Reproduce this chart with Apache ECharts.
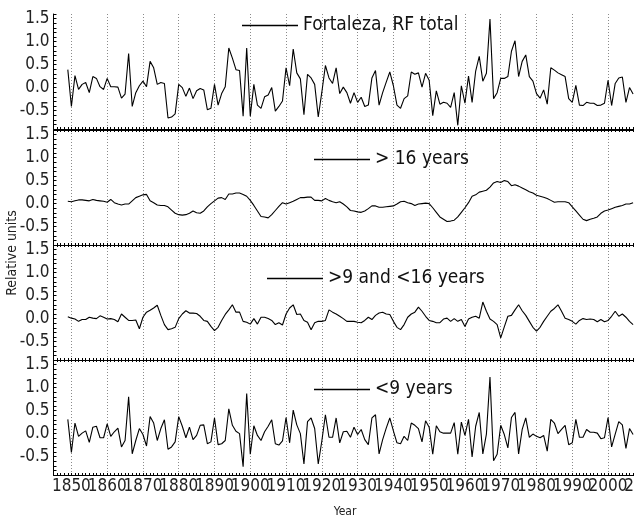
<!DOCTYPE html>
<html><head><meta charset="utf-8">
<script src="https://cdn.jsdelivr.net/npm/echarts@6/dist/echarts.min.js"></script>
<style>html,body{margin:0;padding:0;background:#fff}#c{width:634px;height:520px}</style>
</head><body><div id="c"></div>
<script>
const firstYear = 1849;
const total = [
 0.39,
 -0.41, 0.26,-0.04, 0.07, 0.11,-0.11, 0.24, 0.20, 0.02,-0.04,
 0.20, 0.02, 0.02, 0.01,-0.23,-0.14, 0.74,-0.41,-0.11, 0.04,
 0.14, 0.02, 0.57, 0.43, 0.07, 0.11, 0.09,-0.66,-0.64,-0.57,
 0.07, 0.00,-0.19,-0.01,-0.24,-0.07,-0.02,-0.05,-0.48,-0.45,
 0.07,-0.38,-0.13, 0.02, 0.86, 0.64, 0.39, 0.37,-0.62, 0.86,
 -0.62, 0.07,-0.38,-0.45,-0.20,-0.16, 0.00,-0.51,-0.41,-0.29,
 0.43, 0.04, 0.84, 0.32, 0.19,-0.59, 0.29, 0.21, 0.07,-0.64,
 -0.10, 0.48, 0.21, 0.09, 0.43,-0.13, 0.01,-0.11,-0.34,-0.11,
 -0.32,-0.21,-0.41,-0.38, 0.21, 0.37,-0.38,-0.11, 0.12, 0.34,
 0.04,-0.38,-0.45,-0.24,-0.18, 0.34, 0.29, 0.32, 0.01, 0.31,
 0.16,-0.61,-0.07,-0.36,-0.32,-0.34,-0.43,-0.11,-0.82, 0.04,
 -0.34, 0.25,-0.32, 0.36, 0.68, 0.14, 0.31, 1.49,-0.24,-0.11,
 0.20, 0.20, 0.24, 0.79, 1.02, 0.24, 0.57, 0.71, 0.24, 0.14,
 -0.13,-0.23,-0.05,-0.36, 0.43, 0.38, 0.32, 0.28, 0.24,-0.24,
 -0.32, 0.05,-0.38,-0.39,-0.32,-0.34,-0.34,-0.39,-0.38,-0.34,
 0.16,-0.39, 0.09, 0.21, 0.23,-0.32, 0.00,-0.14
];
const gt16 = [
 0.05,
 0.04, 0.06, 0.08, 0.08, 0.07, 0.06, 0.09, 0.07, 0.06, 0.05,
 0.03, 0.09, 0.02,-0.01,-0.03,-0.01,-0.01, 0.06, 0.13, 0.16,
 0.19, 0.20, 0.06, 0.02,-0.03,-0.04,-0.04,-0.07,-0.14,-0.21,
 -0.24,-0.25,-0.24,-0.21,-0.16,-0.20,-0.21,-0.16,-0.07, 0.00,
 0.06, 0.12, 0.13, 0.09, 0.21, 0.21, 0.23, 0.23, 0.20, 0.16,
 0.07,-0.04,-0.16,-0.28,-0.29,-0.31,-0.24,-0.15,-0.06, 0.02,
 -0.01, 0.02, 0.05, 0.09, 0.13, 0.13, 0.14, 0.14, 0.07, 0.07,
 0.06, 0.11, 0.07, 0.04, 0.02, 0.04,-0.01,-0.07,-0.15,-0.16,
 -0.18,-0.19,-0.16,-0.11,-0.05,-0.05,-0.08,-0.08,-0.07,-0.06,
 -0.05,-0.01, 0.04, 0.05, 0.02, 0.00,-0.04,-0.01, 0.00, 0.01,
 0.00,-0.09,-0.19,-0.29,-0.34,-0.39,-0.38,-0.36,-0.29,-0.19,
 -0.09, 0.02, 0.16, 0.19, 0.25, 0.27, 0.29, 0.36, 0.45, 0.48,
 0.46, 0.50, 0.48, 0.39, 0.41, 0.38, 0.34, 0.30, 0.26, 0.23,
 0.18, 0.16, 0.14, 0.11, 0.07, 0.03, 0.04, 0.04, 0.04, 0.02,
 -0.07,-0.16,-0.25,-0.34,-0.37,-0.34,-0.32,-0.29,-0.21,-0.16,
 -0.14,-0.11,-0.08,-0.06,-0.04,-0.01,-0.01, 0.02
];
const mid = [
 0.04,
 0.01,-0.01,-0.06,-0.02,-0.02, 0.03, 0.01, 0.00, 0.06, 0.03,
 -0.01, 0.00,-0.02,-0.07, 0.10, 0.03,-0.04,-0.04,-0.03,-0.22,
 0.03, 0.14, 0.18, 0.23, 0.29, 0.07,-0.13,-0.24,-0.22,-0.19,
 0.00, 0.10, 0.17, 0.12, 0.12, 0.11, 0.05,-0.04,-0.06,-0.17,
 -0.26,-0.19,-0.04, 0.09, 0.19, 0.30, 0.14, 0.14,-0.06,-0.08,
 -0.12, 0.00,-0.12, 0.03, 0.03, 0.00,-0.04,-0.13,-0.09,-0.14,
 0.10, 0.23, 0.30, 0.09, 0.10,-0.04,-0.08,-0.24,-0.09,-0.06,
 -0.06,-0.04, 0.19, 0.14, 0.10, 0.05, 0.00,-0.06,-0.06,-0.06,
 -0.08,-0.09,-0.04, 0.03,-0.02, 0.07, 0.12, 0.14, 0.10, 0.09,
 -0.06,-0.19,-0.24,-0.13, 0.03, 0.10, 0.14, 0.25, 0.16, 0.05,
 -0.04,-0.06,-0.09,-0.09,-0.01, 0.01,-0.06, 0.00,-0.06,-0.02,
 -0.17,-0.01, 0.03, 0.05, 0.01, 0.36, 0.16,-0.01,-0.06,-0.13,
 -0.42,-0.18, 0.05, 0.07, 0.19, 0.30, 0.17, 0.07,-0.06,-0.19,
 -0.27,-0.19,-0.06, 0.05, 0.16, 0.22, 0.30, 0.16, 0.01,-0.02,
 -0.06,-0.12,-0.04, 0.00,-0.02,-0.01,-0.02,-0.07,-0.02,-0.07,
 -0.04, 0.05, 0.16, 0.05, 0.10, 0.03,-0.06,-0.13
];
const lt9 = [
 0.31,
 -0.41, 0.23,-0.06, 0.01, 0.06,-0.19, 0.14, 0.16,-0.09,-0.09,
 0.21,-0.06, 0.04, 0.12,-0.29,-0.15, 0.80,-0.44,-0.15, 0.11,
 -0.02,-0.27, 0.37, 0.23,-0.15, 0.11, 0.30,-0.34,-0.29,-0.18,
 0.37, 0.16,-0.09, 0.14,-0.13,-0.04, 0.18, 0.19,-0.22,-0.18,
 0.34,-0.24,-0.22,-0.15, 0.54, 0.18, 0.05, 0.00,-0.72, 0.87,
 -0.45, 0.17,-0.04,-0.15, 0.04, 0.16, 0.30,-0.22,-0.25,-0.16,
 0.35,-0.20, 0.51, 0.19, 0.00,-0.66, 0.26, 0.34, 0.11,-0.66,
 -0.16, 0.41,-0.08,-0.08, 0.34,-0.20, 0.04, 0.05,-0.08, 0.14,
 -0.02, 0.09,-0.13,-0.24, 0.34, 0.41,-0.44,-0.13, 0.12, 0.34,
 0.06,-0.20,-0.22,-0.06,-0.15, 0.23, 0.18, 0.11,-0.18, 0.28,
 0.14,-0.45, 0.17, 0.04, 0.01, 0.01, 0.01, 0.24,-0.45, 0.25,
 -0.04, 0.31,-0.51, 0.16, 0.46,-0.44,-0.01, 1.23,-0.59,-0.45,
 0.18,-0.02,-0.31, 0.35, 0.46,-0.44, 0.09, 0.34,-0.08,-0.01,
 -0.06,-0.09,-0.04,-0.38, 0.31, 0.23, 0.00, 0.09, 0.18,-0.24,
 -0.20, 0.31,-0.08,-0.08, 0.09, 0.03, 0.03, 0.01,-0.11,-0.09,
 0.35,-0.29,-0.01, 0.26, 0.19,-0.32, 0.11,-0.02
];
const seriesNames = ['Fortaleza, RF total', '> 16 years', '>9 and <16 years', '<9 years'];
const yTickLabels = [-0.5, 0, 0.5, 1.0, 1.5];
const xTickLabels = [1850,1860,1870,1880,1890,1900,1910,1920,1930,1940,1950,1960,1970,1980,1990,2000,2010];
const gridLineYears = [1850,1860,1870,1880,1890,1900,1910,1920,1930,1940,1950,1960,1970,1980,1990,2000];

const FONT = "'DejaVu Sans Condensed','Liberation Sans Narrow','Arial Narrow',sans-serif";
const X_MIN = 1845, X_MAX = 2011, Y_MIN = -0.9, Y_MAX = 1.6;
const yearTicks = []; for (let y = X_MIN; y <= X_MAX; y++) yearTicks.push(y);
const yMinor = []; for (let k = -9; k <= 16; k++) yMinor.push(k / 10);
// blank end-stop labels so the library's min/max label culling drops them instead of real years
const xLabelValues = [X_MIN].concat(xTickLabels, [X_MAX]);

const dataSets = [total, gt16, mid, lt9];
const tops = [14, 130, 245, 360];
const H = 115;
const legendPos = [[242, 16], [314, 150], [267, 269], [314, 380]];
const grids = [], xAxes = [], yAxes = [], series = [], legends = [];
const blk = {color: '#000', width: 1};
for (let i = 0; i < 4; i++) {
  grids.push({left: 53.5, right: -13.4, top: tops[i], height: H, containLabel: false, outerBoundsMode: 'none'});
  xAxes.push({type: 'value', gridIndex: i, position: 'bottom', min: X_MIN, max: X_MAX,
    axisLine: {show: true, onZero: false, lineStyle: blk},
    axisTick: {show: true, inside: true, length: 2, customValues: yearTicks, lineStyle: blk},
    axisLabel: {show: i === 3, customValues: xLabelValues, fontSize: 17, fontFamily: FONT, color: '#222', margin: 3,
      showMinLabel: false, showMaxLabel: false, hideOverlap: false,
      formatter: v => (v === X_MIN || v === X_MAX) ? ' ' : String(v)},
    splitLine: {show: false}});
  xAxes.push({type: 'value', gridIndex: i, position: 'top', min: X_MIN, max: X_MAX,
    axisLine: {show: i > 0, onZero: false, lineStyle: blk},
    axisTick: {show: i > 0, inside: true, length: 2, customValues: yearTicks, lineStyle: blk},
    axisLabel: {show: false}, splitLine: {show: false}});
  xAxes.push({type: 'value', gridIndex: i, position: 'bottom', min: X_MIN, max: X_MAX,
    axisLine: {show: false}, axisTick: {show: false, customValues: gridLineYears},
    axisLabel: {show: false},
    splitLine: {show: true, showMinLine: true, showMaxLine: true, lineStyle: {color: '#8a8a8a', width: 1, type: [1, 2]}}});
  yAxes.push({type: 'value', gridIndex: i, position: 'left', min: Y_MIN, max: Y_MAX,
    axisLine: {show: true, onZero: false, lineStyle: blk},
    axisTick: {show: true, inside: true, length: 3, customValues: yMinor, lineStyle: blk},
    axisLabel: {customValues: yTickLabels, fontSize: 17, fontFamily: FONT, color: '#222', margin: 4,
      showMinLabel: true, showMaxLabel: true, hideOverlap: false,
      formatter: v => v.toFixed(1)},
    splitLine: {show: false}});
  series.push({type: 'line', name: seriesNames[i], xAxisIndex: 3 * i, yAxisIndex: i,
    data: dataSets[i].map((v, k) => [firstYear + k, v]),
    symbol: 'none', showSymbol: false, silent: true,
    lineStyle: {color: '#000', width: 1.1}, itemStyle: {color: '#000'}});
  legends.push({data: [seriesNames[i]], left: legendPos[i][0], top: legendPos[i][1], padding: 0,
    icon: 'rect', itemWidth: 56, itemHeight: 1.3, selectedMode: false,
    textStyle: {fontSize: 19, fontFamily: FONT, color: '#111'}});
}

const chart = echarts.init(document.getElementById('c'), null, {renderer: 'canvas'});
chart.setOption({
  animation: false,
  backgroundColor: '#fff',
  grid: grids, xAxis: xAxes, yAxis: yAxes, series: series, legend: legends,
  graphic: [
    {type: 'text', x: 12, y: 253, rotation: Math.PI / 2,
     style: {text: 'Relative units', font: "14px " + FONT, fill: '#222', textAlign: 'center', textVerticalAlign: 'middle'}},
    {type: 'text', x: 345, y: 512,
     style: {text: 'Year', font: "12px " + FONT, fill: '#222', textAlign: 'center', textVerticalAlign: 'middle'}}
  ]
});
</script></body></html>
